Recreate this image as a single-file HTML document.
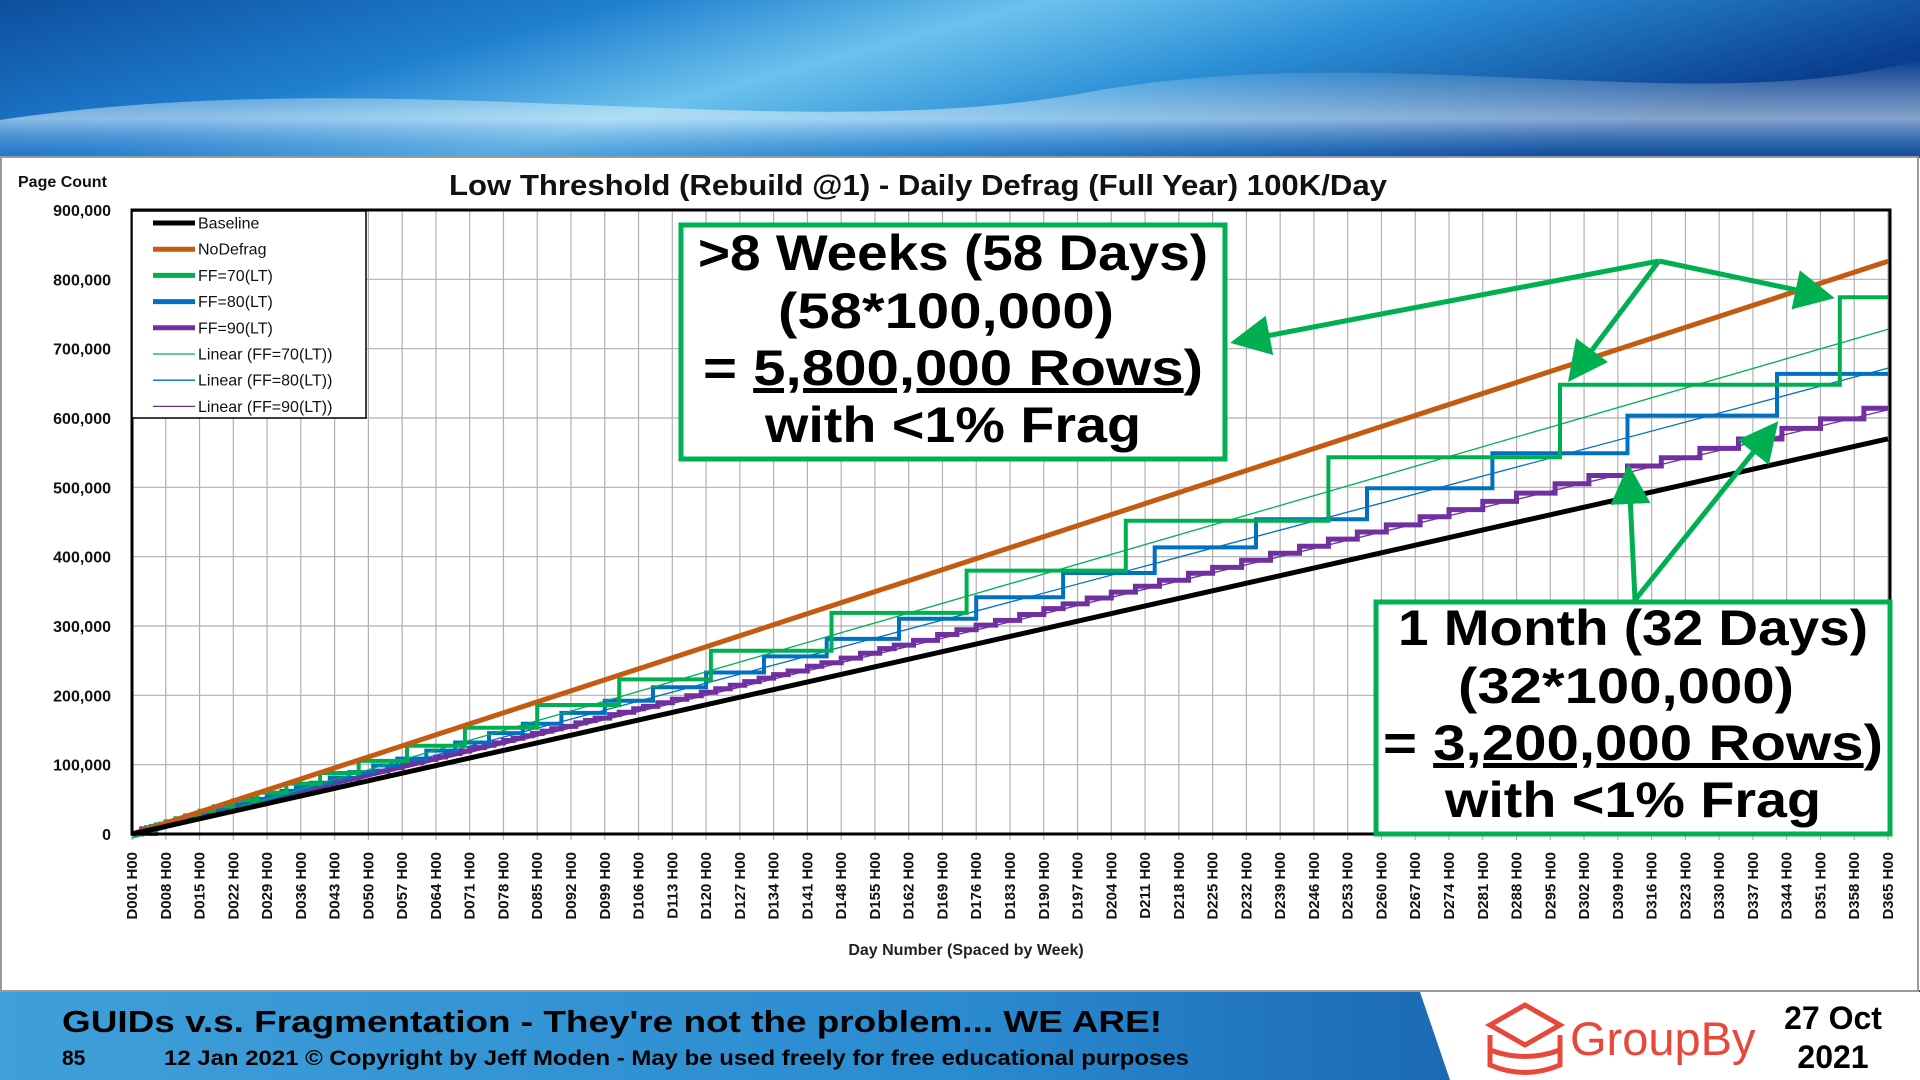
<!DOCTYPE html>
<html><head><meta charset="utf-8">
<style>
html,body{margin:0;padding:0;width:1920px;height:1080px;overflow:hidden;background:#fff}
svg{display:block}
text{font-family:"Liberation Sans",sans-serif}
</style></head>
<body>
<svg id="s" width="1920" height="1080" viewBox="0 0 1920 1080" xmlns="http://www.w3.org/2000/svg">
<defs>
<linearGradient id="ban" x1="0" y1="0" x2="1" y2="0.3">
<stop offset="0" stop-color="#0d4f9e"/><stop offset="0.3" stop-color="#1f7fcf"/>
<stop offset="0.5" stop-color="#6cc2ec"/><stop offset="0.7" stop-color="#2b8fd6"/><stop offset="1" stop-color="#0a3f8f"/>
</linearGradient>
<linearGradient id="ban2" x1="0" y1="0" x2="0" y2="1">
<stop offset="0" stop-color="#ffffff" stop-opacity="0"/><stop offset="0.6" stop-color="#e8f6ff" stop-opacity="0.55"/><stop offset="1" stop-color="#1a6cc4" stop-opacity="0.3"/>
</linearGradient>
<linearGradient id="foot" x1="0" y1="0" x2="1" y2="0">
<stop offset="0" stop-color="#3f9fd8"/><stop offset="0.5" stop-color="#2a8bd0"/><stop offset="1" stop-color="#0d4a9a"/>
</linearGradient>
<marker id="ah" markerWidth="8" markerHeight="8" refX="6" refY="4" orient="auto" markerUnits="strokeWidth">
<path d="M0,0 L8,4 L0,8 Z" fill="#00b050"/></marker>
</defs>
<rect x="0" y="0" width="1920" height="158" fill="url(#ban)"/>
<path d="M0,120 C400,60 800,150 1100,90 C1400,40 1700,120 1920,60 L1920,158 L0,158 Z" fill="url(#ban2)"/>
<rect x="0" y="990" width="1920" height="90" fill="url(#foot)"/>
<polygon points="1420,992 1920,992 1920,1080 1450,1080" fill="#fff"/>
<rect x="1" y="157" width="1917" height="834" fill="#fff" stroke="#999" stroke-width="2"/>
<g id="grid"></g>
<g id="series"></g>
<rect x="132" y="210" width="1758" height="624" fill="none" stroke="#000" stroke-width="3"/>
<text x="918" y="195" font-size="29" text-anchor="middle" fill="#111" font-weight="bold" textLength="938" lengthAdjust="spacingAndGlyphs" style="font-weight:600">Low Threshold (Rebuild @1) - Daily Defrag (Full Year) 100K/Day</text>
<text x="18" y="187" font-size="16" font-weight="bold" fill="#111">Page Count</text>
<text x="966" y="955" font-size="16" font-weight="bold" text-anchor="middle" fill="#222">Day Number (Spaced by Week)</text>
<g id="legend">
<rect x="132" y="211" width="234" height="207" fill="#fff" stroke="#000" stroke-width="1.5"/>
</g>
<g font-weight="bold" fill="#000" text-anchor="middle">
<rect x="681" y="225" width="544" height="234" fill="#fff" stroke="#00b050" stroke-width="5"/>
<text x="953" y="270" font-size="50" textLength="510" lengthAdjust="spacingAndGlyphs">&gt;8 Weeks (58 Days)</text>
<text x="946" y="328" font-size="50" textLength="336" lengthAdjust="spacingAndGlyphs">(58*100,000)</text>
<text x="953" y="385" font-size="50" textLength="500" lengthAdjust="spacingAndGlyphs">= <tspan text-decoration="underline">5,800,000 Rows</tspan>)</text>
<text x="953" y="442" font-size="50" textLength="376" lengthAdjust="spacingAndGlyphs">with &lt;1% Frag</text>
<rect x="1376" y="602" width="514" height="232" fill="#fff" stroke="#00b050" stroke-width="5"/>
<text x="1633" y="645" font-size="50" textLength="470" lengthAdjust="spacingAndGlyphs">1 Month (32 Days)</text>
<text x="1626" y="703" font-size="50" textLength="336" lengthAdjust="spacingAndGlyphs">(32*100,000)</text>
<text x="1633" y="760" font-size="50" textLength="500" lengthAdjust="spacingAndGlyphs">= <tspan text-decoration="underline">3,200,000 Rows</tspan>)</text>
<text x="1633" y="817" font-size="50" textLength="376" lengthAdjust="spacingAndGlyphs">with &lt;1% Frag</text>
</g>
<g stroke="#00b050" stroke-width="5" fill="none">
<line x1="1659" y1="261" x2="1240" y2="341" marker-end="url(#ah)"/>
<line x1="1659" y1="261" x2="1574" y2="374" marker-end="url(#ah)"/>
<line x1="1659" y1="261" x2="1825" y2="296" marker-end="url(#ah)"/>
<line x1="1635" y1="600" x2="1629" y2="474" marker-end="url(#ah)"/>
<line x1="1635" y1="600" x2="1772" y2="429" marker-end="url(#ah)"/>
</g>
<text x="62" y="1032" font-size="31" font-weight="bold" fill="#000" textLength="1100" lengthAdjust="spacingAndGlyphs">GUIDs v.s. Fragmentation -  They're not the problem... WE ARE!</text>
<text x="62" y="1065" font-size="21" font-weight="bold" fill="#000">85</text>
<text x="164" y="1065" font-size="21" font-weight="bold" fill="#000" textLength="1025" lengthAdjust="spacingAndGlyphs">12 Jan 2021 © Copyright by Jeff Moden - May be used freely for free educational purposes</text>
<g stroke="#e8483a" stroke-width="5" fill="none">
<path d="M1490,1025 L1525,1005 L1560,1025 L1525,1045 Z"/>
<path d="M1490,1035 L1490,1065 Q1525,1080 1560,1065 L1560,1035"/>
<path d="M1490,1050 Q1525,1063 1560,1050"/>
</g>
<text x="1570" y="1055" font-size="47" fill="#e8483a">GroupBy</text>
<text x="1833" y="1029" font-size="32" font-weight="bold" text-anchor="middle" fill="#000">27 Oct</text>
<text x="1833" y="1068" font-size="32" font-weight="bold" text-anchor="middle" fill="#000">2021</text>
</svg>
<script>
var NS="http://www.w3.org/2000/svg";
function X(d){return 132+(d-1)/364*1756;}
function Y(v){return 834-v/900000*624;}
function el(p,t,a,txt){var e=document.createElementNS(NS,t);for(var k in a)e.setAttribute(k,a[k]);if(txt!=null)e.textContent=txt;p.appendChild(e);return e;}
var g=document.getElementById('grid');
for(var v=0;v<=900000;v+=100000){
 el(g,'line',{x1:132,x2:1890,y1:Y(v),y2:Y(v),stroke:'#b0b0b0','stroke-width':1.2});
 el(g,'text',{x:111,y:Y(v)+6,'font-size':16,'font-weight':'bold','text-anchor':'end',fill:'#111'},v==0?'0':v.toLocaleString('en-US'));
}
for(var d=1;d<=365;d+=7){
 var x=X(d);
 el(g,'line',{x1:x,x2:x,y1:210,y2:840,stroke:'#b0b0b0','stroke-width':1.2});
 var lab='D'+('00'+d).slice(-3)+' H00';
 el(g,'text',{x:0,y:0,'font-size':15,'font-weight':'bold',fill:'#111','text-anchor':'end',transform:'translate('+(x+5)+',852) rotate(-90)'},lab);
}
var s=document.getElementById('series');
function line(pts,col,w){var d='';pts.forEach(function(p,i){d+=(i?'L':'M')+X(p[0]).toFixed(1)+','+Y(p[1]).toFixed(1);});el(s,'path',{d:d,stroke:col,'stroke-width':w,fill:'none'});}
function base(d){return 570000*(d-1)/364;}
function nd(d){return 826000*(d-1)/364;}
function steps(jumps,lvl){var pts=[[1,0]];var prev=0;for(var i=0;i<jumps.length;i++){var t=jumps[i];pts.push([t,prev]);prev=lvl(t);pts.push([t,prev]);}pts.push([365,prev]);return pts;}
// FF90
var j90=[];for(var t=3;t<365;t=Math.max(t+1,t*1.025))j90.push(Math.round(t));
line(steps(j90,function(t){return base(t)*1.085+4000;}),'#7030a0',5);
line([[1,0],[365,612000]],'#7030a0',1.3);
// FF80
var j80=[342];while(j80[0]>6)j80.unshift(Math.round(j80[0]/1.1));
line(steps(j80,function(t){return nd(t)*0.855+2000;}),'#0070c0',4);
line([[1,-3000],[365,672000]],'#0070c0',1.3);
// FF70
var j70=[355,297,249,207,174,146,121,102,85,70,58,48,40,33,27,22,18,15,12,10,8,6,5,4].reverse();
line(steps(j70,function(t){return nd(t)*0.96+3000;}),'#00b050',4);
line([[1,-6000],[365,728000]],'#00b050',1.3);
line([[1,0],[365,826000]],'#c55a11',5);
line([[1,0],[365,570000]],'#000',5);
// legend
var lg=document.getElementById('legend');
var items=[['Baseline','#000',5],['NoDefrag','#c55a11',5],['FF=70(LT)','#00b050',5],['FF=80(LT)','#0070c0',5],['FF=90(LT)','#7030a0',5],['Linear (FF=70(LT))','#00b050',1.3],['Linear (FF=80(LT))','#0070c0',1.3],['Linear (FF=90(LT))','#7030a0',1.3]];
items.forEach(function(it,i){var y=223+i*26.2;el(lg,'line',{x1:153,x2:195,y1:y,y2:y,stroke:it[1],'stroke-width':it[2]});el(lg,'text',{x:198,y:y+5.5,'font-size':16,fill:'#111'},it[0]);});
</script>
</body></html>
